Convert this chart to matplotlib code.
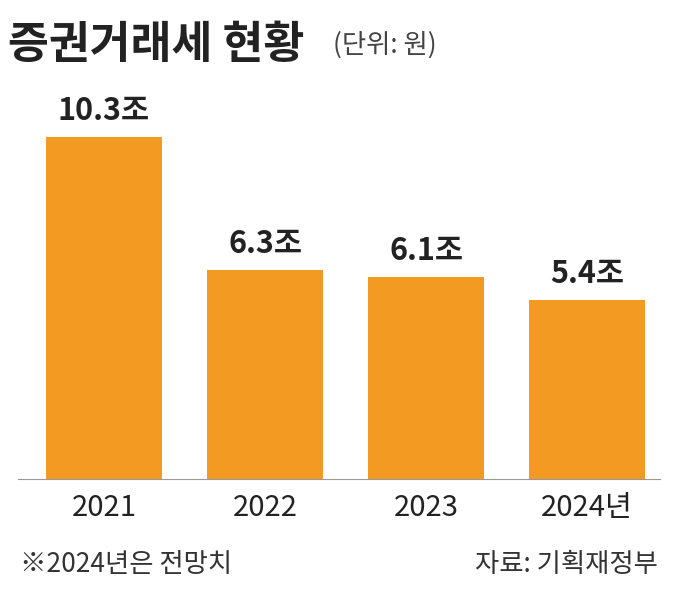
import matplotlib.pyplot as plt

plt.rcParams['font.family'] = ['Noto Sans CJK KR', 'DejaVu Sans']

years = ["2021", "2022", "2023", "2024년"]
values = [10.3, 6.3, 6.1, 5.4]
labels = ["10.3조", "6.3조", "6.1조", "5.4조"]

fig = plt.figure(figsize=(6.75, 6.01), dpi=100)
ax = fig.add_axes([18/675, 1-479/601, 642/675, 399/601])
x = range(len(values))
ax.bar(x, values, width=0.72, color="#F39A22")
for i, (v, t) in enumerate(zip(values, labels)):
    ax.text(i, v + 0.3, t, ha="center", va="bottom", fontsize=22, fontweight="bold", color="#222222")
ax.set_xlim(-0.534, 3.453)
ax.set_ylim(0, 12.02)
ax.set_xticks(list(x))
ax.set_xticklabels(years, fontsize=21, color="#222222")
ax.tick_params(axis="x", length=0, pad=10)
ax.set_yticks([])
for s in ["top", "left", "right"]:
    ax.spines[s].set_visible(False)
ax.spines["bottom"].set_color("#999999")

fig.text(8/675, 1-45/601, "증권거래세 현황", fontsize=32, fontweight="bold", va="center", color="#222222")
fig.text(333/675, 1-45/601, "(단위: 원)", fontsize=19, va="center", color="#444444")
fig.text(20/675, 1-565/601, "※2024년은 전망치", fontsize=19, va="center", color="#333333")
fig.text(658/675, 1-565/601, "자료: 기획재정부", fontsize=19, va="center", ha="right", color="#333333")

fig.savefig("out.png", dpi=100)
